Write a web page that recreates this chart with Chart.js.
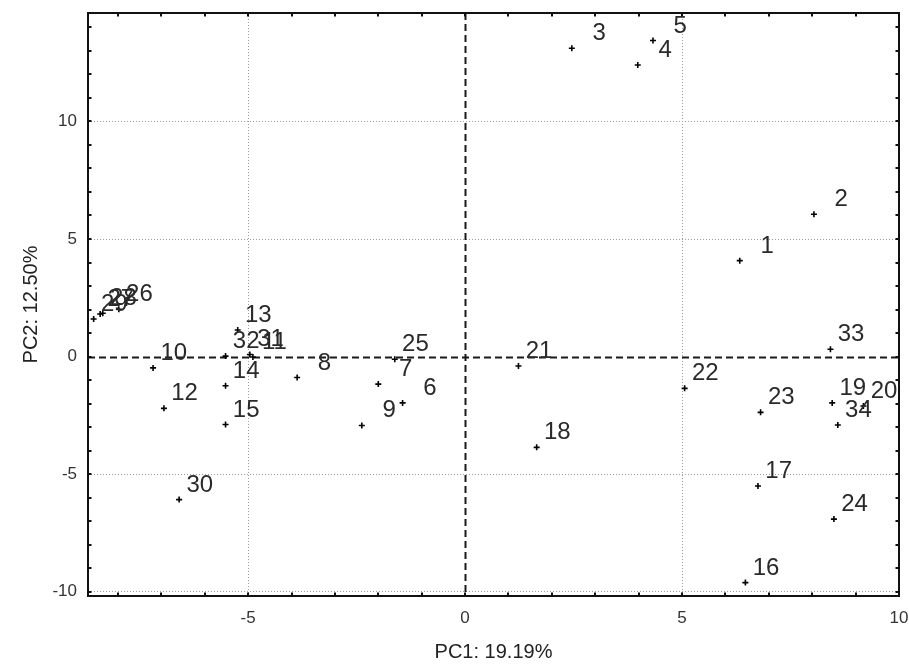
<!DOCTYPE html>
<html>
<head>
<meta charset="utf-8">
<script src="https://cdn.jsdelivr.net/npm/chart.js@4"></script>
<style>
  html, body { margin: 0; padding: 0; background: #fff; }
  #wrap { width: 909px; height: 666px; }
</style>
</head>
<body>
<div id="wrap"><canvas id="pca" width="909" height="666"></canvas></div>
<script>
// Sample numbers and their scores on the first two principal components
const sampleIds = ['1','2','3','4','5','6','7','8','9','10','11','12','13','14','15','16','17',
                   '18','19','20','21','22','23','24','25','26','27','28','29','30','31','32','33','34'];
const pc1Scores = [6.33, 8.04, 2.46, 3.98, 4.33, -1.44, -2.00, -3.87, -2.38, -7.19, -4.89, -6.94, -5.24, -5.52, -5.52, 6.46, 6.75,
                   1.65, 8.46, 9.18, 1.23, 5.06, 6.81, 8.50, -1.62, -7.98, -8.41, -8.35, -8.56, -6.59, -4.96, -5.52, 8.42, 8.59];
const pc2Scores = [4.08, 6.05, 13.11, 12.40, 13.44, -1.97, -1.17, -0.89, -2.93, -0.48, -0.02, -2.20, 1.13, -1.24, -2.89, -9.61, -5.50,
                   -3.86, -1.97, -2.10, -0.40, -1.35, -2.37, -6.91, -0.11, 2.01, 1.81, 1.84, 1.60, -6.08, 0.09, 0.02, 0.31, -2.91];

// Axis extents and the tick values that carry a number
const pc1Range = [-8.69, 10];
const pc2Range = [-10.18, 14.61];
const pc1TickLabels = [-5, 0, 5, 10];
const pc2TickLabels = [-10, -5, 0, 5, 10];
const pc1Title = 'PC1: 19.19%';
const pc2Title = 'PC2: 12.50%';

const FONT = "'Liberation Sans', Arial, sans-serif";

const points = pc1Scores.map((x, i) => ({ x: x, y: pc2Scores[i] }));

function gridColour(labels, range) {
  return ctx => {
    const v = ctx.tick ? ctx.tick.value : NaN;
    const inside = v > range[0] + 1e-6 && v < range[1] - 1e-6;
    return (labels.includes(v) && v !== 0 && inside) ? '#9c9c9c' : 'rgba(0,0,0,0)';
  };
}

// Frame, inward minor ticks and the dashed zero lines
const framePlugin = {
  id: 'frame',
  beforeDatasetsDraw(chart) {
    const { ctx, chartArea: a, scales: { x, y } } = chart;
    ctx.save();
    // dashed origin lines
    ctx.strokeStyle = '#1a1a1a';
    ctx.lineWidth = 2;
    ctx.setLineDash([7, 4]);
    const x0 = Math.round(x.getPixelForValue(0)) + 0.5;
    const y0 = Math.round(y.getPixelForValue(0)) + 0.5;
    ctx.beginPath();
    ctx.moveTo(x0, a.top); ctx.lineTo(x0, a.bottom);
    ctx.moveTo(a.left, y0); ctx.lineTo(a.right, y0);
    ctx.stroke();
    ctx.setLineDash([]);

    // inward tick marks at every integer on all four sides
    ctx.strokeStyle = '#111';
    ctx.lineWidth = 2;
    const len = 3.5;
    ctx.beginPath();
    for (let v = Math.ceil(x.min); v <= Math.floor(x.max); v++) {
      const px = Math.round(x.getPixelForValue(v));
      ctx.moveTo(px, a.bottom); ctx.lineTo(px, a.bottom - len);
      ctx.moveTo(px, a.top); ctx.lineTo(px, a.top + len);
    }
    for (let v = Math.ceil(y.min); v <= Math.floor(y.max); v++) {
      const py = Math.round(y.getPixelForValue(v));
      ctx.moveTo(a.left, py); ctx.lineTo(a.left + len, py);
      ctx.moveTo(a.right, py); ctx.lineTo(a.right - len, py);
    }
    ctx.stroke();

    // plot frame
    ctx.lineWidth = 2;
    ctx.strokeStyle = '#111';
    ctx.strokeRect(Math.round(a.left), Math.round(a.top),
                   Math.round(a.right - a.left), Math.round(a.bottom - a.top));
    ctx.restore();
  }
};

// Sample number written up and to the right of each point
const pointLabelPlugin = {
  id: 'pointLabels',
  afterDatasetsDraw(chart) {
    const { ctx, chartArea: a } = chart;
    const meta = chart.getDatasetMeta(0);
    ctx.save();
    ctx.beginPath();
    ctx.rect(a.left, a.top, a.right - a.left, a.bottom - a.top);
    ctx.clip();
    ctx.font = '24px ' + FONT;
    ctx.fillStyle = '#2a2a2a';
    ctx.textAlign = 'right';
    ctx.textBaseline = 'alphabetic';
    meta.data.forEach((el, i) => {
      ctx.fillText(sampleIds[i], el.x + 34, el.y - 8);
    });
    ctx.restore();
  }
};

new Chart(document.getElementById('pca'), {
  type: 'scatter',
  data: {
    datasets: [{
      data: points,
      pointStyle: 'cross',
      pointRadius: 3,
      pointHoverRadius: 3,
      borderWidth: 1.6,
      borderColor: '#000',
      backgroundColor: '#000'
    }]
  },
  options: {
    responsive: false,
    animation: false,
    devicePixelRatio: 1,
    layout: { padding: { left: 0, right: 10, top: 13, bottom: 0 } },
    plugins: {
      legend: { display: false },
      tooltip: { enabled: false }
    },
    scales: {
      x: {
        type: 'linear',
        min: pc1Range[0],
        max: pc1Range[1],
        border: { display: false, dash: [1, 2] },
        grid: { color: gridColour(pc1TickLabels, pc1Range), lineWidth: 1, drawTicks: false },
        ticks: {
          stepSize: 1,
          includeBounds: false,
          autoSkip: false,
          maxRotation: 0,
          padding: 12,
          color: '#333',
          font: { family: FONT, size: 17 },
          callback: v => pc1TickLabels.includes(v) ? String(v) : ''
        },
        title: {
          display: true,
          text: pc1Title,
          color: '#222',
          font: { family: FONT, size: 20 },
          padding: { top: 0, bottom: 2 }
        },
        afterFit(s) { s.height = 70; s.paddingLeft = 0; s.paddingRight = 0; }
      },
      y: {
        type: 'linear',
        min: pc2Range[0],
        max: pc2Range[1],
        border: { display: false, dash: [1, 2] },
        grid: { color: gridColour(pc2TickLabels, pc2Range), lineWidth: 1, drawTicks: false },
        ticks: {
          stepSize: 1,
          includeBounds: false,
          autoSkip: false,
          padding: 11,
          color: '#333',
          font: { family: FONT, size: 17 },
          callback: v => pc2TickLabels.includes(v) ? String(v) : ''
        },
        title: {
          display: true,
          text: pc2Title,
          color: '#222',
          font: { family: FONT, size: 20 },
          padding: { top: 19, bottom: 0 }
        },
        afterFit(s) { s.width = 88; s.paddingTop = 0; s.paddingBottom = 0; }
      }
    }
  },
  plugins: [framePlugin, pointLabelPlugin]
});
</script>
</body>
</html>
